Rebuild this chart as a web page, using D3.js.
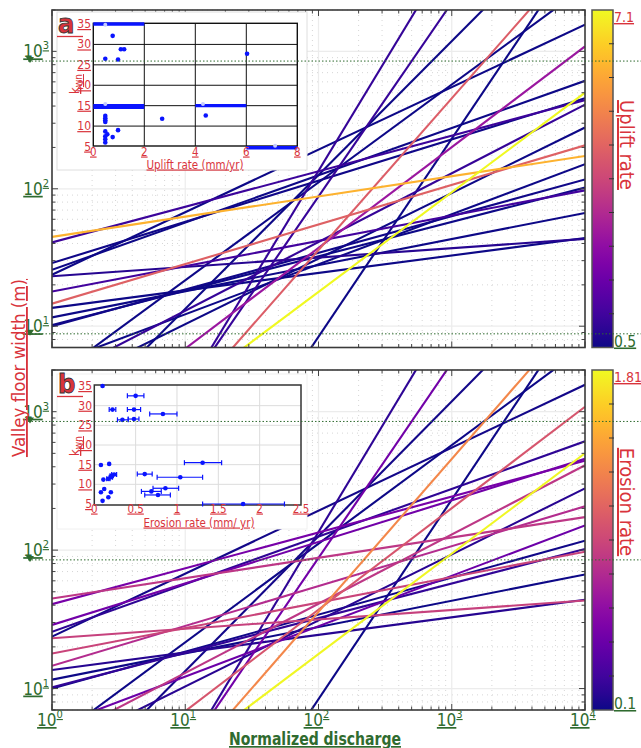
<!DOCTYPE html>
<html>
<head>
<meta charset="utf-8">
<script src="https://cdn.jsdelivr.net/npm/d3@7"></script>
<style>
  body { margin: 0; background: #fff; }
  text { font-family: "Liberation Sans Narrow", "DejaVu Sans Condensed", "Noto Sans", sans-serif; }
  .ul { text-decoration: underline; }
</style>
</head>
<body>
<svg id="chart" width="641" height="748"></svg>
<script>
// ---- data ----
// power-law fits W = coef * Q^expo, one per river
const widthCoef = [44.7, 40.7, 28.8, 25.7, 23.7, 23.1, 17.9, 14.6, 13.6, 11.6, 10.2, 10.0,
                   4.19, 5.28, 4.10, 3.45, 1.42, 1.27, 0.0853, 0.133, 0.222, 0.63, 0.011];
const widthExpo = [0.147, 0.259, 0.30, 0.344, 0.455, 0.068, 0.184, 0.288, 0.127, 0.19, 0.25, 0.267,
                   0.712, 0.364, 0.50, 0.477, 0.974, 0.733, 1.60, 1.41, 1.104, 0.725, 1.441];
const upliftRate = [5.99, 1.07, 0.55, 0.47, 0.47, 0.76, 1.18, 4.38, 0.47, 0.47, 0.47, 0.55,
                    0.47, 0.47, 0.97, 0.47, 0.47, 2.68, 0.97, 1.0, 4.30, 7.1, 0.47];
const erosionRate = [0.86, 0.50, 0.48, 0.20, 0.12, 0.92, 0.94, 0.80, 0.17, 0.10, 0.21, 0.11,
                     0.08, 0.45, 0.86, 0.18, 0.12, 1.04, 0.20, 0.48, 1.31, 1.80, 0.10];
const upliftRange = [0.5, 7.1];
const erosionRange = [0.1, 1.81];
const dischargeDomain = [1, 1e4];
const widthDomain = [7, 2000];
const dottedA = [850, 8.8];
const dottedB = [850, 85];

// inset a: kwn vs uplift rate
const insetUplift = [0.76, 1.08, 1.21, 0.47, 0.97, 6.03, 0.47, 0.47, 0.47, 0.47, 2.70, 4.41,
                     0.47, 0.55, 0.47, 0.47, 0.47, 0.76, 0.97];
const insetUpliftK = [32.1, 28.8, 28.8, 26.5, 26.3, 27.7, 12.5, 11.9, 11.4, 11.0, 11.8, 12.6,
                      8.7, 8.0, 7.5, 6.8, 6.0, 7.3, 9.0];
const faintUplift = [0.47, 0.47, 4.3, 7.13];
const faintUpliftK = [34.8, 15.4, 15.4, 5.2];
const bandFrom = [0, 0, 4, 6];
const bandTo = [2, 2, 6, 8];
const bandK = [35.0, 14.8, 15.0, 4.7];

// inset b: kwn vs erosion rate (with ranges)
const insetErosion = [0.10, 0.50, 0.22, 0.48, 0.83, 0.34, 0.48, 0.08, 0.18, 1.31, 0.24, 0.21, 0.20,
                      0.17, 0.11, 0.61, 1.04, 0.12, 0.86, 0.08, 0.20, 0.69, 0.77, 0.17, 0.10, 1.80];
const insetErosionK = [35.0, 32.5, 29.0, 29.0, 27.9, 26.4, 26.6, 14.9, 15.2, 15.5, 12.5, 12.2, 11.8,
                       11.4, 11.2, 12.6, 11.8, 8.8, 9.0, 8.0, 8.0, 8.2, 7.3, 6.7, 5.8, 5.0];
const erosionLo = [null, 0.40, 0.18, 0.40, 0.67, 0.28, 0.41, null, null, 1.09, 0.21, 0.19, 0.18,
                   0.15, null, 0.52, 0.76, null, 0.71, null, null, 0.57, 0.61, null, null, 1.31];
const erosionHi = [null, 0.60, 0.26, 0.56, 1.00, 0.41, 0.54, null, null, 1.54, 0.27, 0.23, 0.22,
                   0.19, null, 0.70, 1.31, null, 1.02, null, null, 0.81, 0.92, null, null, 2.30];

const majorW = [10, 100, 1000];
const majorQ = [1, 10, 100, 1000, 10000];

const GREEN = "#2f6b2f", RED = "#d9343c";
const svg = d3.select("#chart");

const x = d3.scaleLog().domain(dischargeDomain).range([52, 585]);

const panels = [
  { top: 10, bottom: 347.5, rate: upliftRate, range: upliftRange, title: "Uplift rate",
    letter: "a", dotted: dottedA, titleY: 145, id: "A" },
  { top: 370, bottom: 710, rate: erosionRate, range: erosionRange, title: "Erosion rate",
    letter: "b", dotted: dottedB, titleY: 502, id: "B" }
];

function minors(lo, hi) {
  const out = [];
  for (let e = 0; e < 5; e++) for (let m = 1; m < 10; m++) {
    const v = m * Math.pow(10, e);
    if (v >= lo && v <= hi && m !== 1) out.push(v);
  }
  return out;
}
function powText(sel, exp) {
  sel.append("tspan").text("10");
  sel.append("tspan").attr("dy", -8).attr("font-size", 11).text(exp);
}

const defs = svg.append("defs");

panels.forEach(p => {
  const y = d3.scaleLog().domain(widthDomain).range([p.bottom, p.top]);
  const color = d3.scaleSequential(d3.interpolatePlasma).domain(p.range);
  const g = svg.append("g");

  defs.append("clipPath").attr("id", "clip" + p.id)
    .append("rect").attr("x", x.range()[0]).attr("y", p.top)
    .attr("width", x.range()[1] - x.range()[0]).attr("height", p.bottom - p.top);

  // grid
  const grid = g.append("g");
  grid.selectAll(".gmx").data(minors(1, 1e4)).join("line")
    .attr("x1", d => x(d)).attr("x2", d => x(d)).attr("y1", p.top).attr("y2", p.bottom)
    .attr("stroke", "#d6d6d6").attr("stroke-width", 1).attr("stroke-dasharray", "1,4");
  grid.selectAll(".gmy").data(minors(7, 2000)).join("line")
    .attr("x1", x.range()[0]).attr("x2", x.range()[1]).attr("y1", d => y(d)).attr("y2", d => y(d))
    .attr("stroke", "#d6d6d6").attr("stroke-width", 1).attr("stroke-dasharray", "1,4");
  grid.selectAll(".gMx").data(majorQ.slice(1, 4)).join("line")
    .attr("x1", d => x(d)).attr("x2", d => x(d)).attr("y1", p.top).attr("y2", p.bottom)
    .attr("stroke", "#ececec").attr("stroke-width", 1.2);
  grid.selectAll(".gMy").data(majorW).join("line")
    .attr("x1", x.range()[0]).attr("x2", x.range()[1]).attr("y1", d => y(d)).attr("y2", d => y(d))
    .attr("stroke", "#ececec").attr("stroke-width", 1.2);

  // fitted lines, brighter ones on top
  const order = d3.range(widthCoef.length).sort((a, b) => p.rate[a] - p.rate[b]);
  const lineGen = d3.line().x(d => x(d[0])).y(d => y(d[1]));
  g.append("g").attr("clip-path", `url(#clip${p.id})`)
    .selectAll("path").data(order).join("path")
    .attr("d", i => lineGen(dischargeDomain.map(q => [q, widthCoef[i] * Math.pow(q, widthExpo[i])])))
    .attr("fill", "none").attr("stroke", i => color(p.rate[i])).attr("stroke-width", 2.1);

  // ticks (inward on all four sides)
  const tk = g.append("g").attr("stroke", "#444").attr("stroke-width", 1);
  const yMin = minors(7, 2000);
  [[majorW, 6], [yMin, 3.5]].forEach(([vals, len]) => {
    tk.selectAll(null).data(vals).join("line")
      .attr("x1", x.range()[0]).attr("x2", x.range()[0] + len).attr("y1", d => y(d)).attr("y2", d => y(d));
    tk.selectAll(null).data(vals).join("line")
      .attr("x1", x.range()[1]).attr("x2", x.range()[1] - len).attr("y1", d => y(d)).attr("y2", d => y(d));
  });
  [[majorQ, 6], [minors(1, 1e4), 3.5]].forEach(([vals, len]) => {
    tk.selectAll(null).data(vals).join("line")
      .attr("x1", d => x(d)).attr("x2", d => x(d)).attr("y1", p.top).attr("y2", p.top + len);
    tk.selectAll(null).data(vals).join("line")
      .attr("x1", d => x(d)).attr("x2", d => x(d)).attr("y1", p.bottom).attr("y2", p.bottom - len);
  });

  g.append("rect").attr("x", x.range()[0]).attr("y", p.top)
    .attr("width", x.range()[1] - x.range()[0]).attr("height", p.bottom - p.top)
    .attr("fill", "none").attr("stroke", "#3a3a3a").attr("stroke-width", 1.6);

  // y tick labels
  g.selectAll(".ylab").data(majorW).join("text")
    .attr("class", "ul").attr("x", 49).attr("y", d => y(d) + 6)
    .attr("text-anchor", "end").attr("font-size", 17).attr("fill", GREEN)
    .each(function (d) { powText(d3.select(this), Math.round(Math.log10(d))); });

  // colorbar
  const cb = { x: 592, w: 21 };
  const grad = defs.append("linearGradient").attr("id", "grad" + p.id)
    .attr("x1", 0).attr("y1", 1).attr("x2", 0).attr("y2", 0);
  d3.range(0, 1.0001, 0.05).forEach(t => grad.append("stop")
    .attr("offset", t).attr("stop-color", d3.interpolatePlasma(t)));
  g.append("rect").attr("x", cb.x).attr("y", p.top).attr("width", cb.w).attr("height", p.bottom - p.top)
    .attr("fill", `url(#grad${p.id})`).attr("stroke", "#555").attr("stroke-width", 1.5);
  const cbScale = d3.scaleLinear().domain(p.range).range([p.bottom, p.top]);
  const cbTicks = d3.range(1, 10).map(i => p.range[0] + (p.range[1] - p.range[0]) * i / 10);
  g.selectAll(".cbt").data(cbTicks).join("line")
    .attr("x1", cb.x + cb.w - 4).attr("x2", cb.x + cb.w + 1)
    .attr("y1", d => cbScale(d)).attr("y2", d => cbScale(d))
    .attr("stroke", "#333").attr("stroke-width", 1);
  g.append("text").attr("class", "ul").attr("x", 614).attr("y", p.top + 12)
    .attr("font-size", 14).attr("fill", RED).text(p.range[1]);
  g.append("text").attr("class", "ul").attr("x", 614).attr("y", p.bottom - 1)
    .attr("font-size", 15.5).attr("fill", GREEN).text(p.range[0]);
  g.append("text").attr("class", "ul")
    .attr("transform", `translate(620,${p.titleY}) rotate(90)`)
    .attr("text-anchor", "middle").attr("font-size", 20).attr("fill", RED).text(p.title);

  p.y = y;
});

// ---- inset a ----
(function () {
  const ix = d3.scaleLinear().domain([0, 8]).range([93.3, 297.3]);
  const iy = d3.scaleLinear().domain([5, 35]).range([146.5, 24]);
  const g = svg.append("g");
  g.append("rect").attr("x", 57).attr("y", 12).attr("width", 250).attr("height", 158)
    .attr("fill", "#fff").attr("stroke", "#dedede").attr("stroke-width", 1);
  g.append("g").selectAll("line").data([2, 4, 6]).join("line")
    .attr("x1", d => ix(d)).attr("x2", d => ix(d)).attr("y1", 23.3).attr("y2", 146)
    .attr("stroke", "#111").attr("stroke-width", 1);
  g.append("g").selectAll("line").data([10, 15, 20, 25, 30]).join("line")
    .attr("x1", 93.3).attr("x2", 297.3).attr("y1", d => iy(d)).attr("y2", d => iy(d))
    .attr("stroke", "#111").attr("stroke-width", 1);
  g.append("rect").attr("x", 93.3).attr("y", 23.3).attr("width", 204).attr("height", 122.7)
    .attr("fill", "none").attr("stroke", "#111").attr("stroke-width", 1.4);
  g.selectAll(".band").data(bandK).join("line")
    .attr("x1", (d, i) => ix(bandFrom[i])).attr("x2", (d, i) => ix(bandTo[i]))
    .attr("y1", d => iy(d)).attr("y2", d => iy(d))
    .attr("stroke", "#0a14ff").attr("stroke-width", (d, i) => i === 1 ? 5 : 3.4);
  g.selectAll(".faint").data(faintUplift).join("circle")
    .attr("cx", d => ix(d)).attr("cy", (d, i) => iy(faintUpliftK[i])).attr("r", 2)
    .attr("fill", "#c5ccff");
  g.selectAll(".pt").data(insetUplift).join("circle")
    .attr("cx", d => ix(d)).attr("cy", (d, i) => iy(insetUpliftK[i])).attr("r", 2.3)
    .attr("fill", "#0a14ff");
  g.selectAll(".xl").data([0, 2, 4, 6, 8]).join("text").attr("class", "ul")
    .attr("x", d => ix(d)).attr("y", 155.5).attr("text-anchor", "middle")
    .attr("font-size", 11.5).attr("fill", RED).text(d => d);
  g.selectAll(".yl").data([5, 10, 15, 20, 25, 30, 35]).join("text").attr("class", "ul")
    .attr("x", 91).attr("y", d => iy(d) + 4).attr("text-anchor", "end")
    .attr("font-size", 12).attr("fill", RED).text(d => d);
  g.append("text").attr("class", "ul").attr("x", 195).attr("y", 168.5).attr("text-anchor", "middle")
    .attr("font-size", 11.5).attr("fill", RED).text("Uplift rate (mm/yr)");
  const kt = g.append("text").attr("class", "ul").attr("transform", "translate(79,84) rotate(-90)")
    .attr("text-anchor", "middle").attr("font-size", 13).attr("fill", RED);
  kt.append("tspan").text("k");
  kt.append("tspan").attr("dy", 3).attr("font-size", 10).text("wn");
})();

// ---- inset b ----
(function () {
  const ix = d3.scaleLinear().domain([0, 2.5]).range([94.3, 301]);
  const iy = d3.scaleLinear().domain([5, 35]).range([504, 386]);
  const g = svg.append("g");
  g.append("rect").attr("x", 57).attr("y", 374).attr("width", 250).attr("height", 155)
    .attr("fill", "#fff").attr("stroke", "#f0f0f0").attr("stroke-width", 1);
  g.append("g").selectAll("line").data([0.5, 1, 1.5, 2]).join("line")
    .attr("x1", d => ix(d)).attr("x2", d => ix(d)).attr("y1", 385).attr("y2", 505)
    .attr("stroke", "#dcdcdc").attr("stroke-width", 1);
  g.append("g").selectAll("line").data([10, 15, 20, 25, 30]).join("line")
    .attr("x1", 94.3).attr("x2", 301).attr("y1", d => iy(d)).attr("y2", d => iy(d))
    .attr("stroke", "#dcdcdc").attr("stroke-width", 1);
  g.append("rect").attr("x", 94.3).attr("y", 385).attr("width", 206.7).attr("height", 120)
    .attr("fill", "none").attr("stroke", "#333").attr("stroke-width", 1.5);
  const idx = d3.range(insetErosion.length).filter(i => erosionLo[i] !== null);
  const eb = g.append("g").attr("stroke", "#0a14ff").attr("stroke-width", 1.2);
  eb.selectAll(".bar").data(idx).join("line")
    .attr("x1", i => ix(erosionLo[i])).attr("x2", i => ix(erosionHi[i]))
    .attr("y1", i => iy(insetErosionK[i])).attr("y2", i => iy(insetErosionK[i]));
  ["lo", "hi"].forEach(side => {
    eb.selectAll(".cap" + side).data(idx).join("line")
      .attr("x1", i => ix(side === "lo" ? erosionLo[i] : erosionHi[i]))
      .attr("x2", i => ix(side === "lo" ? erosionLo[i] : erosionHi[i]))
      .attr("y1", i => iy(insetErosionK[i]) - 2.5).attr("y2", i => iy(insetErosionK[i]) + 2.5);
  });
  g.selectAll(".pt").data(insetErosion).join("circle")
    .attr("cx", d => ix(d)).attr("cy", (d, i) => iy(insetErosionK[i])).attr("r", 2.3)
    .attr("fill", "#0a14ff");
  g.selectAll(".xl").data([0, 0.5, 1, 1.5, 2, 2.5]).join("text").attr("class", "ul")
    .attr("x", d => ix(d)).attr("y", 512.5).attr("text-anchor", "middle")
    .attr("font-size", 11.5).attr("fill", RED).text(d => d);
  g.selectAll(".yl").data([5, 10, 15, 20, 25, 30, 35]).join("text").attr("class", "ul")
    .attr("x", 92).attr("y", d => iy(d) + 4).attr("text-anchor", "end")
    .attr("font-size", 12).attr("fill", RED).text(d => d);
  g.append("text").attr("class", "ul").attr("x", 199).attr("y", 526.5).attr("text-anchor", "middle")
    .attr("font-size", 11.5).attr("fill", RED).text("Erosion rate (mm/ yr)");
  const kt = g.append("text").attr("class", "ul").attr("transform", "translate(79,446) rotate(-90)")
    .attr("text-anchor", "middle").attr("font-size", 13).attr("fill", RED);
  kt.append("tspan").text("k");
  kt.append("tspan").attr("dy", 3).attr("font-size", 10).text("wn");
})();

// panel letters
panels.forEach(p => {
  svg.append("text").attr("x", 58).attr("y", p.top + 23).attr("font-size", 27).attr("font-weight", "bold")
    .attr("fill", RED).attr("stroke", "#333").attr("stroke-width", 0.8).text(p.letter);
  svg.append("line").attr("x1", 57).attr("x2", 83).attr("y1", p.top + 26.5).attr("y2", p.top + 26.5)
    .attr("stroke", RED).attr("stroke-width", 1.3);
});

// green dotted reference lines across the figure
panels.forEach(p => {
  svg.append("g").selectAll("line").data(p.dotted).join("line")
    .attr("x1", 28).attr("x2", 641).attr("y1", d => p.y(d)).attr("y2", d => p.y(d))
    .attr("stroke", GREEN).attr("stroke-width", 1).attr("stroke-dasharray", "1.5,2");
  svg.append("g").selectAll("path").data(p.dotted).join("path")
    .attr("d", d => `M26,${p.y(d) - 4}h8l-4,6z`).attr("fill", GREEN);
});

// x tick labels (bottom panel only)
svg.selectAll(".xlab").data(majorQ).join("text")
  .attr("class", "ul").attr("x", d => x(d) - 2).attr("y", 726)
  .attr("text-anchor", "middle").attr("font-size", 17).attr("fill", GREEN)
  .each(function (d) { powText(d3.select(this), Math.round(Math.log10(d))); });

svg.append("text").attr("class", "ul").attr("x", 315).attr("y", 745).attr("text-anchor", "middle")
  .attr("font-size", 17).attr("font-weight", "bold").attr("fill", GREEN)
  .attr("textLength", 172).attr("lengthAdjust", "spacingAndGlyphs").text("Normalized discharge");

svg.append("text").attr("class", "ul").attr("transform", "translate(25,368) rotate(-90)")
  .attr("text-anchor", "middle").attr("font-size", 18.5).attr("fill", RED).text("Valley floor width (m)");
</script>
</body>
</html>
